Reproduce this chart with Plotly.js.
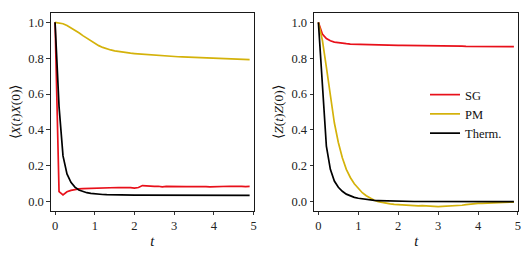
<!DOCTYPE html>
<html>
<head>
<meta charset="utf-8">
<script src="https://cdn.plot.ly/plotly-3.0.1.min.js"></script>
<style>html,body{margin:0;padding:0;background:#fff;}#chart{width:531px;height:258px;}</style>
</head>
<body>
<div id="chart"></div>
<script>
var t = [0.0,0.1,0.2,0.3,0.4,0.5,0.6,0.7,0.8,0.9,1.0,1.1,1.2,1.3,1.4,1.5,1.6,1.7,1.8,1.9,2.0,2.1,2.2,2.3,2.4,2.5,2.6,2.7,2.8,2.9,3.0,3.1,3.2,3.3,3.4,3.5,3.6,3.7,3.8,3.9,4.0,4.1,4.2,4.3,4.4,4.5,4.6,4.7,4.8,4.9];

// Left panel: <X(t)X(0)>
var xxSG = [1.0,0.056,0.038,0.055,0.063,0.068,0.071,0.073,0.074,0.075,0.075,0.076,0.077,0.077,0.078,0.078,0.079,0.078,0.080,0.078,0.076,0.079,0.090,0.087,0.088,0.085,0.086,0.083,0.085,0.084,0.085,0.083,0.085,0.084,0.084,0.085,0.083,0.086,0.084,0.083,0.084,0.086,0.085,0.087,0.086,0.085,0.083,0.085,0.084,0.085];
var xxPM = [1.000,0.998,0.992,0.982,0.970,0.957,0.942,0.926,0.911,0.896,0.882,0.870,0.860,0.852,0.846,0.841,0.837,0.834,0.831,0.828,0.826,0.824,0.822,0.820,0.818,0.816,0.815,0.813,0.812,0.810,0.809,0.808,0.807,0.806,0.805,0.804,0.803,0.802,0.801,0.800,0.799,0.798,0.797,0.797,0.796,0.795,0.795,0.794,0.793,0.792];
var xxTh = [1.0,0.53,0.255,0.155,0.108,0.081,0.065,0.056,0.050,0.046,0.043,0.041,0.040,0.039,0.038,0.038,0.037,0.037,0.037,0.036,0.036,0.036,0.036,0.036,0.036,0.035,0.035,0.035,0.035,0.035,0.035,0.035,0.035,0.035,0.035,0.035,0.035,0.035,0.035,0.035,0.035,0.035,0.035,0.035,0.035,0.035,0.035,0.035,0.035,0.035];

// Right panel: <Z(t)Z(0)>
var zzSG = [1.0,0.935,0.910,0.897,0.890,0.886,0.883,0.881,0.879,0.878,0.877,0.876,0.875,0.874,0.874,0.873,0.873,0.872,0.872,0.872,0.871,0.871,0.871,0.870,0.870,0.870,0.869,0.869,0.869,0.868,0.868,0.868,0.868,0.867,0.867,0.867,0.867,0.866,0.866,0.866,0.866,0.866,0.865,0.865,0.865,0.865,0.865,0.864,0.864,0.864];
var zzPM = [1.0,0.90,0.75,0.58,0.44,0.33,0.245,0.18,0.135,0.10,0.072,0.05,0.033,0.019,0.008,0.0,-0.005,-0.009,-0.012,-0.015,-0.017,-0.019,-0.020,-0.021,-0.022,-0.023,-0.022,-0.024,-0.025,-0.026,-0.028,-0.026,-0.025,-0.024,-0.024,-0.023,-0.020,-0.016,-0.013,-0.011,-0.010,-0.009,-0.008,-0.007,-0.006,-0.005,-0.004,-0.003,-0.002,-0.002];
var zzTh = [1.0,0.62,0.31,0.18,0.115,0.08,0.058,0.042,0.031,0.024,0.019,0.015,0.012,0.009,0.007,0.006,0.005,0.004,0.003,0.003,0.002,0.002,0.002,0.001,0.001,0.001,0.001,0.001,0.001,0.001,0.001,0.001,0.001,0.001,0.001,0.0,0.0,0.0,0.0,0.0,0.0,0.0,0.0,0.0,0.0,0.0,0.0,0.0,0.0,0.0];

var names = ["SG", "PM", "Therm."];
var xTicks = [0,1,2,3,4,5];
var yTicks = [0.0,0.2,0.4,0.6,0.8,1.0];

var RED = "#e8101a", GOLD = "#d4b20a", BLACK = "#000000";
var FONT = "Liberation Serif, Times New Roman, serif";
var LW = 1.7;

var traces = [
  {x:t, y:xxSG, xaxis:"x", yaxis:"y", mode:"lines", line:{color:RED,width:LW}, showlegend:false, name:names[0]},
  {x:t, y:xxPM, xaxis:"x", yaxis:"y", mode:"lines", line:{color:GOLD,width:LW}, showlegend:false, name:names[1]},
  {x:t, y:xxTh, xaxis:"x", yaxis:"y", mode:"lines", line:{color:BLACK,width:LW}, showlegend:false, name:names[2]},
  {x:t, y:zzSG, xaxis:"x2", yaxis:"y2", mode:"lines", line:{color:RED,width:LW}, name:names[0]},
  {x:t, y:zzPM, xaxis:"x2", yaxis:"y2", mode:"lines", line:{color:GOLD,width:LW}, name:names[1]},
  {x:t, y:zzTh, xaxis:"x2", yaxis:"y2", mode:"lines", line:{color:BLACK,width:LW}, name:names[2]}
];

function xa(domain, anchor) {
  return {
    domain: domain, anchor: anchor, range: [-0.11, 5.01],
    tickvals: xTicks, ticktext: xTicks.map(String),
    ticks: "outside", ticklen: 3.5, tickwidth: 0.8, tickcolor: "#000",
    showline: true, linecolor: "#000", linewidth: 0.9, mirror: true,
    showgrid: false, zeroline: false,
    tickfont: {family: FONT, size: 12.5, color: "#222"},
    title: {text: "<i>t</i>", font: {family: FONT, size: 14.5, color: "#111"}, standoff: 3},
    automargin: false
  };
}
function ya(domain, anchor, label) {
  return {
    domain: domain, anchor: anchor, range: [-0.052, 1.052],
    tickvals: yTicks, ticktext: yTicks.map(function(v){return v.toFixed(1);}),
    ticks: "outside", ticklen: 3.5, tickwidth: 0.8, tickcolor: "#000",
    showline: true, linecolor: "#000", linewidth: 0.9, mirror: true,
    showgrid: false, zeroline: false,
    tickfont: {family: FONT, size: 12.5, color: "#222"},
    title: {text: label, font: {family: FONT, size: 13.5, color: "#111"}, standoff: 4},
    automargin: false
  };
}

var yd = [47/258, 245/258];
var layout = {
  width: 531, height: 258,
  margin: {l:0, r:0, t:0, b:0, pad:0},
  paper_bgcolor: "#fff", plot_bgcolor: "#fff",
  showlegend: true,
  xaxis: xa([50.7/531, 254/531], "y"),
  yaxis: ya(yd, "x", "⟨<i>X</i>(<i>t</i>)<i>X</i>(0)⟩"),
  xaxis2: xa([314/531, 518.3/531], "y2"),
  yaxis2: ya(yd, "x2", "⟨<i>Z</i>(<i>t</i>)<i>Z</i>(0)⟩"),
  legend: {
    x: 425/531, y: (258-80)/258, xanchor: "left", yanchor: "top",
    bgcolor: "rgba(0,0,0,0)", borderwidth: 0,
    font: {family: FONT, size: 12.5, color: "#111"},
    tracegroupgap: 0
  }
};

Plotly.newPlot("chart", traces, layout, {staticPlot: true, displayModeBar: false});
</script>
</body>
</html>
